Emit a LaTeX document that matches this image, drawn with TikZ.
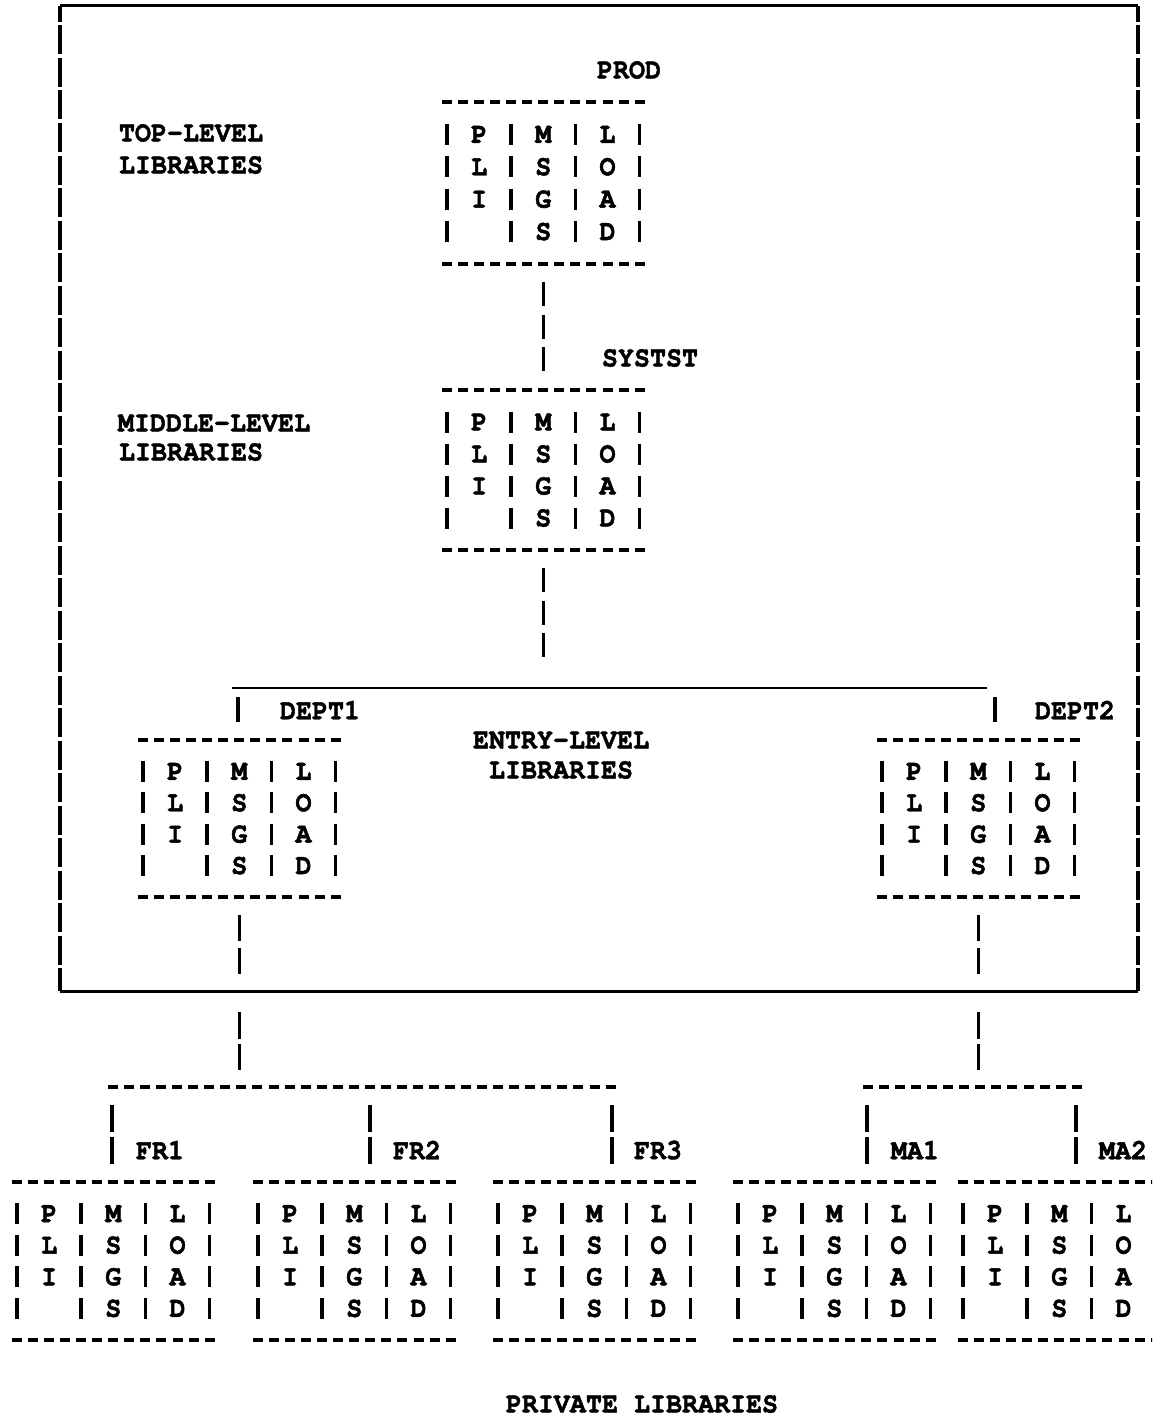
\documentclass[tikz,border=0pt]{standalone}
\usepackage{fontspec}
\newfontfamily\tw[FakeBold=1.6, FakeStretch=0.92]{texgyrecursor-bold.otf}
\usetikzlibrary{calc}

\tikzset{
  lt/.style={font=\tw\fontsize{29}{32}\selectfont, inner sep=0pt, outer sep=0pt, anchor=center},
  boxarea/.style={draw=none, inner sep=0pt, outer sep=0pt, rectangle},
  hdash/.style={line width=4pt, dash pattern=on 10pt off 6.05pt},
  vbar/.style={line width=3.5pt},
  solidline/.style={line width=3pt},
  underline/.style={line width=2.5pt},
  framebar/.style={line width=3.5pt, dash pattern=on 29pt off 3.5pt, dash phase=13pt},
  conn/.style={line width=3.5pt, dash pattern=on 24pt off 8.5pt},
  conntwo/.style={line width=3.5pt, dash pattern=on 26pt off 7pt},
  connthree/.style={line width=3.5pt, dash pattern=on 27pt off 5pt},
}

\newcommand\libbox[4]{%
  \node[boxarea, minimum width=203pt, minimum height={#4pt-#3pt}] (#1) at ({#2+96.5},{(#3+#4)/2}) {};
  \draw[hdash] (#1.north west) -- (#1.north east);
  \draw[hdash] (#1.south west) -- (#1.south east);
  \pgfmathsetmacro\rowp{(#4-#3)/5}
  \foreach \r/\xa/\xb/\xc in {1/P/M/L,2/L/S/O,3/I/G/A}{
    \node[lt] (#1-a\r) at ({#2+32.1},{#3+\r*\rowp}) {\xa};
    \node[lt] (#1-b\r) at ({#2+96.3},{#3+\r*\rowp}) {\xb};
    \node[lt] (#1-c\r) at ({#2+160.5},{#3+\r*\rowp}) {\xc};
  }
  \node[lt] (#1-b4) at ({#2+96.3},{#3+4*\rowp}) {S};
  \node[lt] (#1-c4) at ({#2+160.5},{#3+4*\rowp}) {D};
  \foreach \r in {1,2,3,4}{
    \foreach \k in {0,1,2,3}{
      \draw[vbar] ({#2+\k*64.2},{#3+\r*\rowp-10.5}) -- ++(0,21);
    }
  }
}

\begin{document}
\begin{tikzpicture}[x=1pt,y=-1pt]
\useasboundingbox (0,0) rectangle (1152,1418);
\fill[white] (0,0) rectangle (1152,1418);
\clip (0,0) rectangle (1152,1418);

% outer frame
\node[boxarea, minimum width=1078pt, minimum height=985pt] (frame) at (599,498.5) {};
\draw[solidline] (frame.north west) -- (frame.north east);
\draw[solidline] (frame.south west) -- (frame.south east);
\draw[framebar] (frame.north west) -- (frame.south west);
\draw[framebar] (frame.north east) -- (frame.south east);

% library boxes
\libbox{prod}{447}{102}{264}
\libbox{systst}{447}{390}{550}
\libbox{dept1}{143}{740}{897}
\libbox{dept2}{882}{740}{897}
\libbox{fr1}{17}{1182}{1340}
\libbox{fr2}{258}{1182}{1340}
\libbox{fr3}{498}{1182}{1340}
\libbox{ma1}{738}{1182}{1340}
\libbox{ma2}{963}{1182}{1340}

% labels
\node[lt] (lprod) at (629,70) {PROD};
\node[lt] (lsystst) at (650,358) {SYSTST};
\node[lt] (ltopa) at (191,133) {TOP-LEVEL};
\node[lt] (ltopb) at (191,165) {LIBRARIES};
\node[lt] (lmida) at (214,423) {MIDDLE-LEVEL};
\node[lt] (lmidb) at (191,452) {LIBRARIES};
\node[lt] (lenta) at (561,740) {ENTRY-LEVEL};
\node[lt] (lentb) at (561,770) {LIBRARIES};
\node[lt] (ldeptone) at (320,710) {DEPT1};
\node[lt] (ldepttwo) at (1075,710) {DEPT2};
\node[lt] (lfrone) at (160,1150) {FR1};
\node[lt] (lfrtwo) at (417,1150) {FR2};
\node[lt] (lfrthree) at (658,1150) {FR3};
\node[lt] (lmaone) at (915,1150) {MA1};
\node[lt] (lmatwo) at (1123,1150) {MA2};
\node[lt] (lpriv) at (642,1404) {PRIVATE LIBRARIES};

% connectors: top and middle
\draw[conn] ([yshift=-18pt]prod.south) -- ([yshift=18pt]systst.north);
\draw[conn] ([yshift=-18pt]systst.south) -- ++(0,89);

% entry-level bus
\coordinate (busL) at (232,688);
\coordinate (busR) at (987,688);
\draw[underline] (busL) -- (busR);
\coordinate (dropdeptone) at (238,697);
\coordinate (dropdepttwo) at (995,697);
\draw[vbar] (dropdeptone) -- ++(0,25);
\draw[vbar] (dropdepttwo) -- ++(0,25);

% entry-level boxes down through the frame
\draw[conntwo] ([yshift=-18pt]dept1.south) -- ++(0,59);
\draw[conntwo] ([yshift=-18pt]dept2.south) -- ++(0,59);
\draw[connthree] ($(frame.south -| dept1)+(0,21)$) -- ++(0,58);
\draw[connthree] ($(frame.south -| dept2)+(0,21)$) -- ++(0,58);

% private buses
\coordinate (pbusLa) at (108,1087);
\coordinate (pbusLb) at (616,1087);
\coordinate (pbusRa) at (863,1087);
\coordinate (pbusRb) at (1082,1087);
\draw[hdash] (pbusLa) -- (pbusLb);
\draw[hdash] (pbusRa) -- (pbusRb);

\coordinate (dfrone) at (112,1105);
\coordinate (dfrtwo) at (370,1105);
\coordinate (dfrthree) at (612,1105);
\coordinate (dmaone) at (867,1105);
\coordinate (dmatwo) at (1076,1105);
\foreach \d in {dfrone,dfrtwo,dfrthree,dmaone,dmatwo}{
  \draw[connthree] (\d) -- ++(0,60);
}
\end{tikzpicture}
\end{document}
